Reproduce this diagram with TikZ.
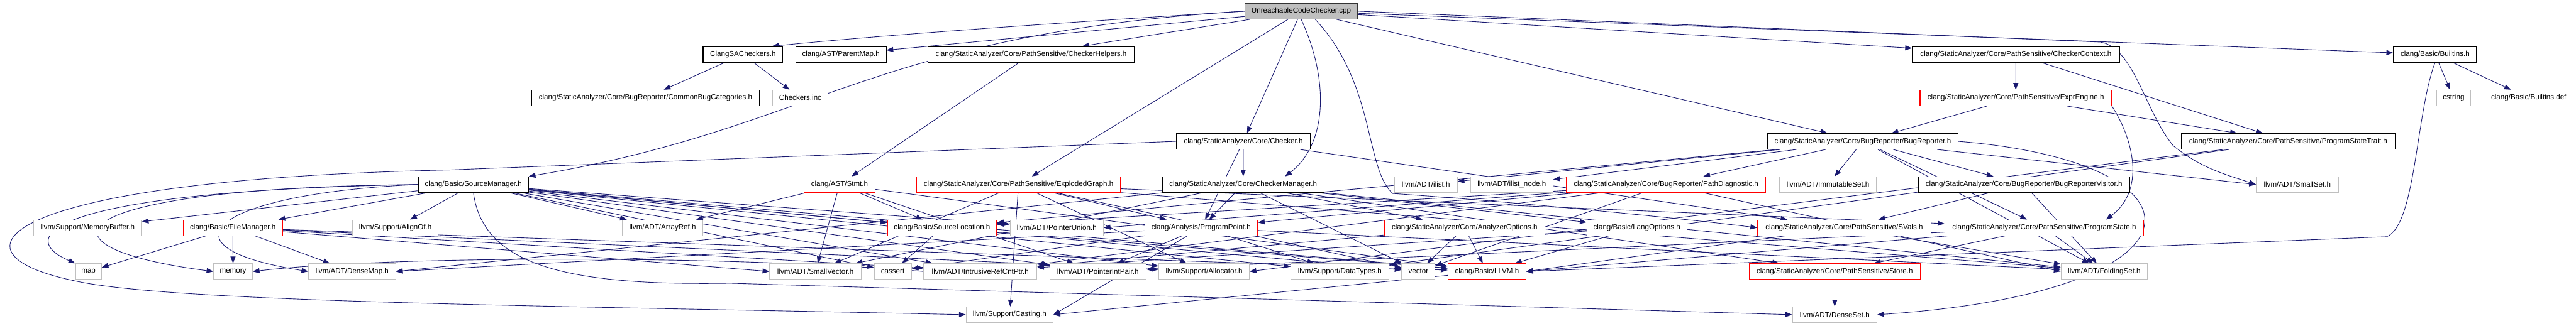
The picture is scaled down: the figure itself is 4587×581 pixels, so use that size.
\documentclass[tikz,border=0pt]{standalone}
\usepackage{fontspec}
\setmainfont{Liberation Sans}
\usetikzlibrary{arrows.meta}
\definecolor{edgeblue}{RGB}{25,25,112}
\definecolor{boxgray}{RGB}{191,191,191}
\definecolor{rootgray}{RGB}{191,191,191}
\pgfdeclarelayer{bg}
\pgfsetlayers{bg,main}
\begin{document}
\begin{tikzpicture}[x=1pt,y=-1pt,
  box/.style={rectangle, minimum height=28pt, inner xsep=2pt, inner ysep=0pt, line width=1.2pt, fill=white, font=\fontsize{13}{15}\selectfont},
  nb/.style={box, draw=black},
  ng/.style={box, draw=boxgray},
  nr/.style={box, draw=red},
  nroot/.style={box, draw=black!80, fill=rootgray},
  e/.style={draw=edgeblue, line width=1pt, -{Triangle[length=12pt,width=9pt]}}]
\useasboundingbox (0,0) rectangle (4587,581);
% row 1-4
\node[nroot, minimum width=200] (root) at (2317,20) {UnreachableCodeChecker.cpp};
\node[nb, minimum width=142] (clangsa) at (1323,97) {ClangSACheckers.h};
\node[nb, minimum width=161] (parentmap) at (1497.5,97) {clang/AST/ParentMap.h};
\node[nb, minimum width=368] (helpers) at (1836,97) {clang/StaticAnalyzer/Core/PathSensitive/CheckerHelpers.h};
\node[nb, minimum width=369] (context) at (3589.6,97) {clang/StaticAnalyzer/Core/PathSensitive/CheckerContext.h};
\node[nb, minimum width=148] (builtins) at (4336,97) {clang/Basic/Builtins.h};
\node[nb, minimum width=406] (commonbug) at (1149.5,174.5) {clang/StaticAnalyzer/Core/BugReporter/CommonBugCategories.h};
\node[ng, minimum width=99] (checkersinc) at (1425,174.5) {Checkers.inc};
\node[nr, minimum width=341] (exprengine) at (3589.4,174.5) {clang/StaticAnalyzer/Core/PathSensitive/ExprEngine.h};
\node[ng, minimum width=61] (cstring) at (4369,174.5) {cstring};
\node[ng, minimum width=159] (builtinsdef) at (4502.7,174.5) {clang/Basic/Builtins.def};
\node[nb, minimum width=239] (checker) at (2214,252) {clang/StaticAnalyzer/Core/Checker.h};
\node[nb, minimum width=339] (bugreporter) at (3317,252) {clang/StaticAnalyzer/Core/BugReporter/BugReporter.h};
\node[nb, minimum width=380] (pstrait) at (4074.5,252) {clang/StaticAnalyzer/Core/PathSensitive/ProgramStateTrait.h};
% row 5
\node[nb, minimum width=196] (srcmgr) at (843,329) {clang/Basic/SourceManager.h};
\node[nr, minimum width=127] (stmt) at (1495,329) {clang/AST/Stmt.h};
\node[nr, minimum width=363] (exploded) at (1813.7,329) {clang/StaticAnalyzer/Core/PathSensitive/ExplodedGraph.h};
\node[nb, minimum width=288] (chkmgr) at (2213.7,329) {clang/StaticAnalyzer/Core/CheckerManager.h};
\node[ng, minimum width=112] (ilist) at (2539,329) {llvm/ADT/ilist.h};
\node[ng, minimum width=146] (ilistnode) at (2692,329) {llvm/ADT/ilist\_node.h};
\node[nr, minimum width=355] (pathdiag) at (2966.7,329) {clang/StaticAnalyzer/Core/BugReporter/PathDiagnostic.h};
\node[ng, minimum width=173] (immset) at (3255,329) {llvm/ADT/ImmutableSet.h};
\node[nb, minimum width=376] (brvisitor) at (3604,329) {clang/StaticAnalyzer/Core/BugReporter/BugReporterVisitor.h};
\node[ng, minimum width=146] (smallset) at (4090.6,329) {llvm/ADT/SmallSet.h};
% row 6
\node[ng, minimum width=192] (membuf) at (156,406) {llvm/Support/MemoryBuffer.h};
\node[nr, minimum width=177] (filemgr) at (414.6,406) {clang/Basic/FileManager.h};
\node[ng, minimum width=153] (alignof) at (704,406) {llvm/Support/AlignOf.h};
\node[ng, minimum width=143] (arrayref) at (1180,406) {llvm/ADT/ArrayRef.h};
\node[nr, minimum width=194.5] (srcloc) at (1677.5,406) {clang/Basic/SourceLocation.h};
\node[ng, minimum width=166] (ptrunion) at (1881.7,406) {llvm/ADT/PointerUnion.h};
\node[nr, minimum width=201] (progpoint) at (2138.8,406) {clang/Analysis/ProgramPoint.h};
\node[nr, minimum width=285] (anopts) at (2608,406) {clang/StaticAnalyzer/Core/AnalyzerOptions.h};
\node[nr, minimum width=178] (langopts) at (2914.7,406) {clang/Basic/LangOptions.h};
\node[nr, minimum width=309] (svals) at (3284,406) {clang/StaticAnalyzer/Core/PathSensitive/SVals.h};
\node[nr, minimum width=354] (pstate) at (3640,406) {clang/StaticAnalyzer/Core/PathSensitive/ProgramState.h};
% row 7
\node[ng, minimum width=46] (map) at (157.5,484) {map};
\node[ng, minimum width=69] (memory) at (415,484) {memory};
\node[ng, minimum width=155] (densemap) at (627,484) {llvm/ADT/DenseMap.h};
\node[ng, minimum width=163] (smallvec) at (1452,484) {llvm/ADT/SmallVector.h};
\node[ng, minimum width=66] (cassert) at (1589.7,484) {cassert};
\node[ng, minimum width=201] (irc) at (1745.6,484) {llvm/ADT/IntrusiveRefCntPtr.h};
\node[ng, minimum width=171] (pip) at (1955,484) {llvm/ADT/PointerIntPair.h};
\node[ng, minimum width=161] (alloc) at (2144,484) {llvm/Support/Allocator.h};
\node[ng, minimum width=175] (datatypes) at (2385.7,484) {llvm/Support/DataTypes.h};
\node[ng, minimum width=59] (vector) at (2525.7,484) {vector};
\node[nr, minimum width=139] (llvmh) at (2647.8,484) {clang/Basic/LLVM.h};
\node[nr, minimum width=305] (store) at (3267,484) {clang/StaticAnalyzer/Core/PathSensitive/Store.h};
\node[ng, minimum width=154] (folding) at (3747,484) {llvm/ADT/FoldingSet.h};
% row 8
\node[ng, minimum width=155] (casting) at (1797.8,561) {llvm/Support/Casting.h};
\node[ng, minimum width=150] (denseset) at (3267,561) {llvm/ADT/DenseSet.h};

\begin{pgfonlayer}{bg}
\foreach \a/\b in {root/parentmap, root/helpers, root/exploded, root/checker, root/bugreporter, root/context, root/builtins,
  clangsa/commonbug, clangsa/checkersinc, helpers/stmt, builtins/cstring, builtins/builtinsdef,
  context/exprengine, context/pstrait, exprengine/bugreporter, exprengine/pstrait,
  checker/chkmgr, checker/progpoint, checker/svals,
  chkmgr/progpoint, chkmgr/langopts, chkmgr/anopts, chkmgr/store, chkmgr/densemap.east, chkmgr/folding, chkmgr/smallvec, chkmgr/vector,
  bugreporter/srcloc, bugreporter/brvisitor, bugreporter/pathdiag, bugreporter/pstate, bugreporter/folding, bugreporter/immset, bugreporter/smallset.west, bugreporter/ilist, bugreporter/ilistnode,
  pathdiag/srcloc, pathdiag/ptrunion.east, pathdiag/progpoint, pathdiag/folding.west, pathdiag/irc, pathdiag/vector,
  brvisitor/svals, brvisitor/folding, pstrait/alloc.east, pstrait/datatypes,
  srcmgr/membuf, srcmgr/filemgr, srcmgr/alignof, srcmgr/arrayref, srcmgr/srcloc, srcmgr/ptrunion, srcmgr/pip, srcmgr/irc, srcmgr/alloc, srcmgr/datatypes, srcmgr/cassert, srcmgr/vector, srcmgr/llvmh,
  filemgr/map, filemgr/memory, filemgr/densemap, filemgr/llvmh, filemgr/irc, filemgr/smallvec.west, filemgr/alloc,
  stmt/arrayref, stmt/srcloc, stmt/smallvec, stmt/pip, stmt/llvmh,
  exploded/progpoint, exploded/pstate, exploded/folding, exploded/smallvec, exploded/alloc, exploded/casting, exploded/vector,
  srcloc/cassert, srcloc/llvmh,
  progpoint/pip, progpoint/casting.east, progpoint/folding, progpoint/densemap.east, progpoint/datatypes, progpoint/cassert,
  anopts/vector, anopts/llvmh, anopts/irc, langopts/llvmh, langopts/irc,
  svals/llvmh.east, svals/folding, pstate/store, pstate/folding, pstate/llvmh.east, pstate/pip,
  store/denseset, llvmh/casting.east}
  \draw[e] (\a) -- (\b);
% curved routes
\draw[e] (root.west) .. controls (1900,40) and (1600,60) .. ([xshift=-20]clangsa.north east);
\draw[e] (root.west) .. controls (1550,60) and (1450,230) .. (srcmgr.north east);
\draw[e] (root.south) .. controls (2370,150) and (2360,260) .. ([xshift=-70]chkmgr.north east);
\draw[e] ([xshift=25]root.south) .. controls (2450,150) and (2430,300) .. (2480,345) .. controls (2700,360) and (3000,390) .. (svals.west);
\draw[e] (root.east) -- (3740,75) .. controls (3800,85) and (3820,200) .. (3870,260) .. controls (3920,300) and (3960,310) .. (smallset.west);
\draw[e] (checker.west) -- (800,303) .. controls (0,320) and (-110,450) .. (130,500) .. controls (300,540) and (1000,545) .. (casting.west);
\draw[e] (srcmgr.west) .. controls (100,340) and (20,420) .. (map.north west);
\draw[e] (srcmgr.west) .. controls (100,335) and (40,440) .. (memory.west);
\draw[e] (srcmgr.west) .. controls (380,345) and (270,440) .. (densemap.west);
\draw[e] (srcmgr.south) .. controls (860,470) and (1000,510) .. (1300,505) -- (denseset.west);
\draw[e] (builtins.south) .. controls (4302,200) and (4302,400) .. (4250,422) -- (llvmh.east);
\draw[e] (bugreporter.east) .. controls (3950,290) and (3950,520) .. (denseset.east);
\draw[e] (exprengine.south east) .. controls (3800,250) and (3820,340) .. ([xshift=110]pstate.north);
\draw[e] (irc.west) .. controls (1300,455) and (700,455) .. (memory.east);
\end{pgfonlayer}
\end{tikzpicture}
\end{document}
